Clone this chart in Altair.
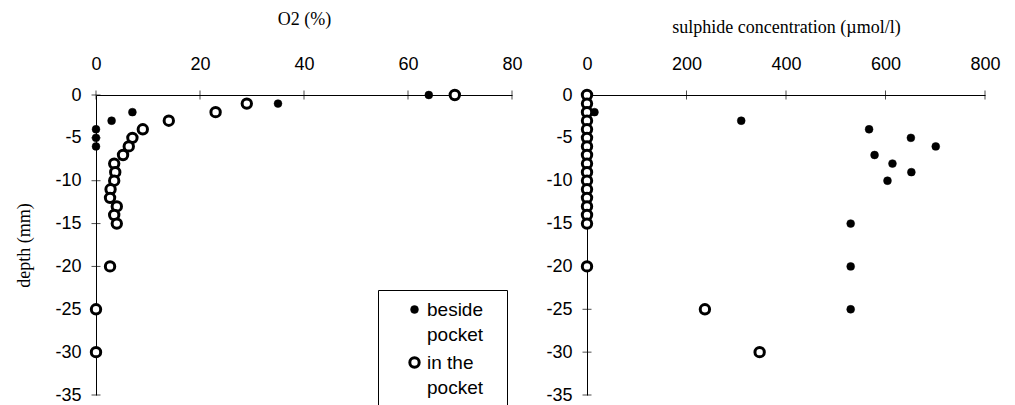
import altair as alt
import pandas as pd

series_names = ["beside pocket", "in the pocket"]

# O2 panel
o2_depth_beside = [0, -1, -2, -3, -4, -5, -6]
o2_beside = [64, 35, 7, 3, 0, 0, 0]
o2_depth_in = [0, -1, -2, -3, -4, -5, -6, -7, -8, -9, -10, -11, -12, -13, -14, -15, -20, -25, -30]
o2_in = [69, 29, 23, 14, 9, 7, 6.3, 5.2, 3.5, 3.7, 3.5, 2.8, 2.7, 4, 3.5, 4, 2.7, 0, 0]

# sulphide panel
s_depth_beside = [0, -1, -2, -3, -4, -5, -6, -7, -8, -9, -10, -15, -20, -25]
s_beside = [0, 0, 15, 310, 567, 651, 701, 578, 614, 652, 604, 530, 530, 530]
s_depth_in = [0, -1, -2, -3, -4, -5, -6, -7, -8, -9, -10, -11, -12, -13, -14, -15, -20, -25, -30]
s_in = [0, 0, 0, 0, 0, 0, 0, 0, 0, 0, 0, 0, 0, 0, 0, 0, 0, 237, 347]

o2_ticks = [0, 20, 40, 60, 80]
s_ticks = [0, 200, 400, 600, 800]
depth_ticks = [0, -5, -10, -15, -20, -25, -30, -35]


def frame(vb, db, vi, di):
    a = pd.DataFrame({"value": vb, "depth": db, "series": series_names[0]})
    b = pd.DataFrame({"value": vi, "depth": di, "series": series_names[1]})
    return pd.concat([a, b], ignore_index=True)


label_expr = ("datum.label == 'beside pocket' ? "
              "['beside\u2800', 'pocket'] : ['in the', 'pocket']")


def panel(df, xdomain, xticks, xtitle, width, ytitle, legend, title_pad):
    xscale = alt.Scale(domain=xdomain, nice=False, zero=False)
    yscale = alt.Scale(domain=[-35, 0], nice=False, zero=False)
    xaxis = alt.Axis(orient="top", values=xticks, title=xtitle, ticks=False, tickSize=0,
                     labelPadding=22, titlePadding=title_pad, labelExpr="'' + datum.value",
                     labelFlush=False)
    yaxis = alt.Axis(values=depth_ticks, title=ytitle, ticks=False, tickSize=0,
                     labelPadding=15, titlePadding=21, labelExpr="'' + datum.value")
    xt = alt.Chart(pd.DataFrame({"value": xticks})).mark_tick(
        orient="vertical", size=9, thickness=1, color="black"
    ).encode(x=alt.X("value:Q", scale=xscale, axis=xaxis), y=alt.datum(0, scale=yscale))
    yt = alt.Chart(pd.DataFrame({"depth": depth_ticks})).mark_tick(
        orient="horizontal", size=9, thickness=1, color="black"
    ).encode(y=alt.Y("depth:Q", scale=yscale, axis=yaxis), x=alt.datum(0))
    pts = alt.Chart(df).mark_point(shape="circle", filled=True, opacity=1).encode(
        x=alt.X("value:Q", scale=xscale, axis=xaxis),
        y=alt.Y("depth:Q", scale=yscale, axis=yaxis),
        fill=alt.Fill("series:N", scale=alt.Scale(domain=series_names, range=["black", "white"]),
                      legend=legend),
        stroke=alt.Stroke("series:N", scale=alt.Scale(domain=series_names, range=["black", "black"]),
                          legend=legend),
        strokeWidth=alt.StrokeWidth("series:N", scale=alt.Scale(type="ordinal", domain=series_names,
                                                                range=[0.5, 3]),
                                    legend=legend),
        size=alt.Size("series:N", scale=alt.Scale(type="ordinal", domain=series_names, range=[62, 88]),
                      legend=legend),
    )
    return alt.layer(xt, yt, pts).properties(width=width, height=300)


legend = alt.Legend(
    orient="none", legendX=282, legendY=195, title=None,
    strokeColor="black", fillColor="white", padding=10,
    labelFont="Liberation Sans", labelFontSize=19, labelColor="black",
    labelExpr=label_expr, labelOffset=3, symbolOffset=17, labelBaseline="middle",
    symbolStrokeColor="black", rowPadding=6, labelLimit=300,
)

left = panel(frame(o2_beside, o2_depth_beside, o2_in, o2_depth_in), [0, 80], o2_ticks,
             "O2 (%)", 416, "depth (mm)", legend, 27)
right = panel(frame(s_beside, s_depth_beside, s_in, s_depth_in), [0, 800], s_ticks,
              "sulphide concentration (\u00b5mol/l)", 398, None, None, 19)

chart = alt.hconcat(left, right, spacing=22).resolve_scale(
    fill="independent", stroke="independent", strokeWidth="independent", size="independent"
).properties(
    padding={"left": 15, "top": 10, "right": 5, "bottom": 0}, background="white"
).configure(
    style={"guide-label": {"lineHeight": 25}}
).configure_view(stroke=None).configure_axis(
    grid=False, domainColor="black", domainWidth=1,
    labelFont="Liberation Sans", labelFontSize=18, labelColor="black",
    titleFont="Liberation Serif", titleFontSize=18, titleFontWeight="normal", titleColor="black",
)

chart.save("out.html", embed_options={"renderer": "svg", "actions": False})
